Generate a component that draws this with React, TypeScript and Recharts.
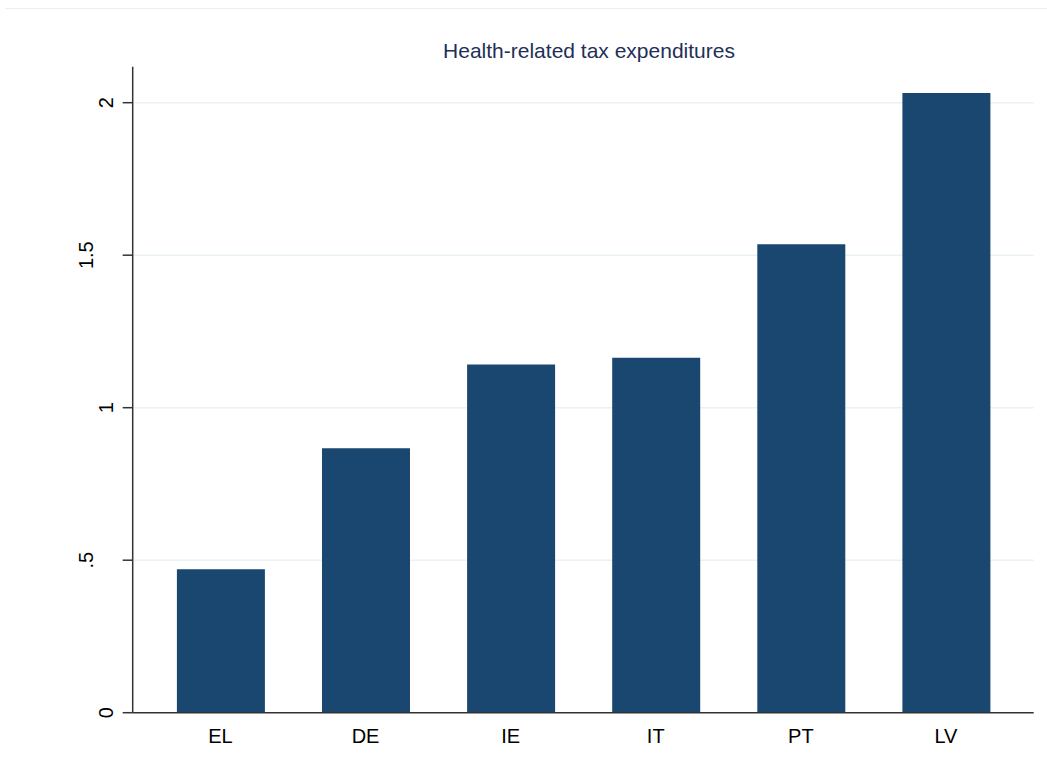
import { BarChart, Bar, XAxis, YAxis, CartesianGrid } from 'recharts';

const countries = ['EL', 'DE', 'IE', 'IT', 'PT', 'LV'];
const taxExpenditures = [0.47, 0.867, 1.142, 1.164, 1.536, 2.032];
const yTicks = [0, 0.5, 1, 1.5, 2];

const data = countries.map((name, i) => ({ name, value: taxExpenditures[i] }));

const FONT = '"Liberation Sans", Arial, Helvetica, sans-serif';

// Stata style labels: "0" -> "0", "0.5" -> ".5"
const fmt = (v: number) => String(v).replace(/^0\./, '.');

function YTick(props: any) {
    const { x, y, payload } = props;
    const label = fmt(payload.value);
    // multi-character labels sit further out, as in the original
    const cx = label.length > 1 ? x - 35 : x - 15;
    return (
        <text
            x={cx}
            y={y}
            transform={`rotate(-90 ${cx} ${y})`}
            textAnchor="middle"
            dominantBaseline="central"
            fontSize={20}
            fontFamily={FONT}
            fill="#000"
        >
            {label}
        </text>
    );
}

export default function App() {
    return (
        <div style={{ position: 'absolute', left: 0, top: 0, width: 1047, height: 771, background: '#fff' }}>
            {/* faint frame edge at the top */}
            <div style={{ position: 'absolute', left: 5, top: 8, width: 1042, borderTop: '1px solid #eeeeee' }} />
            <div
                style={{
                    position: 'absolute',
                    left: 389,
                    top: 40,
                    width: 400,
                    textAlign: 'center',
                    fontFamily: FONT,
                    fontSize: 21,
                    lineHeight: '21px',
                    color: '#1f2f57',
                }}
            >
                Health-related tax expenditures
            </div>
            <BarChart
                width={1047}
                height={771}
                data={data}
                margin={{ top: 66.7, right: 13.3, bottom: 28.3, left: 72.7 }}
            >
                <CartesianGrid
                    vertical={false}
                    horizontalValues={yTicks.filter((t) => t > 0)}
                    stroke="#eaf2f3"
                    strokeWidth={1.5}
                />
                <XAxis
                    dataKey="name"
                    height={30}
                    padding={{ left: 15.2, right: 15.2 }}
                    tickLine={false}
                    tickSize={8}
                    tickMargin={8}
                    axisLine={{ stroke: '#333', strokeWidth: 1.5 }}
                    tick={{ fontSize: 20, fontFamily: FONT, fill: '#000' }}
                />
                <YAxis
                    width={60}
                    domain={[0, 2.118]}
                    ticks={yTicks}
                    tickSize={10}
                    tickMargin={2}
                    axisLine={{ stroke: '#333', strokeWidth: 1.5 }}
                    tickLine={{ stroke: '#333', strokeWidth: 1.5 }}
                    tick={<YTick />}
                />
                <Bar dataKey="value" fill="#1a476f" barSize={88} isAnimationActive={false} />
            </BarChart>
        </div>
    );
}
